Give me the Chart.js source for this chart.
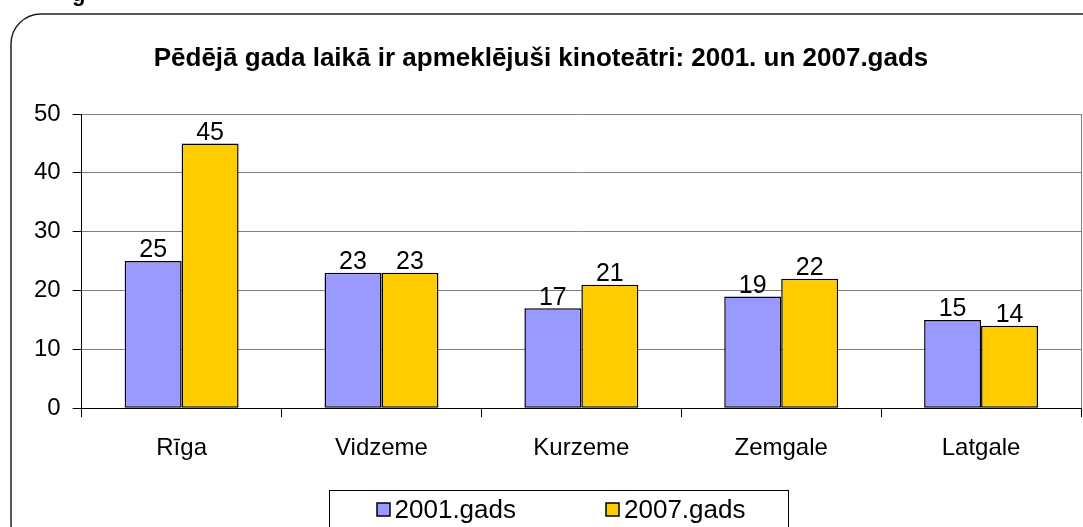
<!DOCTYPE html>
<html>
<head>
<meta charset="utf-8">
<script src="https://cdn.jsdelivr.net/npm/chart.js@4.4.1/dist/chart.umd.min.js"></script>
<style>
  html, body { margin: 0; padding: 0; background: #fff; overflow: hidden; }
  #wrap { position: relative; width: 1083px; height: 527px; }
  #cut { position: absolute; left: 72px; top: -19px; font: bold 22px 'Liberation Sans', Arial, sans-serif; color: #000; }
</style>
</head>
<body>
<div id="wrap">
  <div id="cut">g</div>
  <canvas id="chart" width="1083" height="527"></canvas>
</div>
<script>
const regions = ['Rīga', 'Vidzeme', 'Kurzeme', 'Zemgale', 'Latgale'];
const y2001 = [25, 23, 17, 19, 15];
const y2007 = [45, 23, 21, 22, 14];
const seriesNames = ['2001.gads', '2007.gads'];
const yTicks = [0, 10, 20, 30, 40, 50];
const titleText = 'Pēdējā gada laikā ir apmeklējuši kinoteātri: 2001. un 2007.gads';

const FONT = "'Liberation Sans', Arial, sans-serif";

// rounded outer frame, title, right border of plot area, legend in a box
const framePlugin = {
    id: 'frame',
    beforeDraw(chart) {
        const c = chart.ctx;
        c.save();
        c.strokeStyle = '#222';
        c.lineWidth = 1.5;
        c.beginPath();
        c.roundRect(11, 14, 1110, 540, 30);
        c.stroke();

        c.font = 'bold 26px ' + FONT;
        c.fillStyle = '#000';
        c.textAlign = 'center';
        c.textBaseline = 'middle';
        c.fillText(titleText, 541, 59);
        c.restore();
    },
    afterDraw(chart) {
        const c = chart.ctx;
        const a = chart.chartArea;
        c.save();
        c.strokeStyle = '#808080';
        c.lineWidth = 1;
        c.beginPath();
        c.moveTo(a.right + 0.5, a.top);
        c.lineTo(a.right + 0.5, a.bottom);
        c.stroke();

        // legend
        c.font = '26px ' + FONT;
        const box = 13, gap = 5, itemGap = 90;
        const widths = chart.data.datasets.map(ds => c.measureText(ds.label).width);
        const total = widths.reduce((s, w) => s + box + gap + w, 0) + itemGap * (widths.length - 1);
        const cx = 561, cy = 510;
        let x = cx - total / 2;
        c.strokeStyle = '#000';
        c.strokeRect(Math.round(x - 48) + 0.5, 490.5, Math.round(total + 90), 60);
        c.textBaseline = 'middle';
        c.textAlign = 'left';
        chart.data.datasets.forEach((ds, i) => {
            c.fillStyle = ds.backgroundColor;
            c.fillRect(Math.round(x), cy - 7, box, box);
            c.lineWidth = 1.5;
            c.strokeRect(Math.round(x), cy - 7, box, box);
            c.fillStyle = '#000';
            c.fillText(ds.label, x + box + gap, cy + 1);
            x += box + gap + widths[i] + itemGap;
        });
        c.restore();
    }
};

// value labels above bars
const valuePlugin = {
    id: 'values',
    afterDatasetsDraw(chart) {
        const c = chart.ctx;
        c.save();
        c.font = '25px ' + FONT;
        c.fillStyle = '#000';
        c.textAlign = 'center';
        c.textBaseline = 'bottom';
        chart.data.datasets.forEach((ds, i) => {
            chart.getDatasetMeta(i).data.forEach((bar, j) => {
                c.fillText(ds.data[j], bar.x, bar.y + 2);
            });
        });
        c.restore();
    }
};

new Chart(document.getElementById('chart'), {
    type: 'bar',
    data: {
        labels: regions,
        datasets: [
            { label: seriesNames[0], data: y2001, backgroundColor: '#9999FF', borderColor: '#000', borderWidth: 1.5, borderSkipped: false },
            { label: seriesNames[1], data: y2007, backgroundColor: '#FFCC00', borderColor: '#000', borderWidth: 1.5, borderSkipped: false }
        ]
    },
    options: {
        responsive: false,
        animation: false,
        devicePixelRatio: 1,
        datasets: { bar: { categoryPercentage: 0.57, barPercentage: 1.0 } },
        layout: { padding: { left: 22, right: 2, top: 114, bottom: 47 } },
        plugins: {
            title: { display: false },
            legend: { display: false },
            tooltip: { enabled: false }
        },
        scales: {
            x: {
                grid: { drawOnChartArea: false, tickLength: 9, tickColor: '#000', offset: true },
                border: { color: '#000', width: 1 },
                ticks: { color: '#000', font: { family: FONT, size: 24 }, padding: 17 }
            },
            y: {
                min: 0,
                max: 50,
                afterBuildTicks(axis) { axis.ticks = yTicks.map(v => ({ value: v })); },
                grid: { color: '#808080', tickLength: 9, tickColor: '#000' },
                border: { color: '#000', width: 1 },
                ticks: { color: '#000', font: { family: FONT, size: 24 }, padding: 12 }
            }
        }
    },
    plugins: [framePlugin, valuePlugin]
});
</script>
</body>
</html>
